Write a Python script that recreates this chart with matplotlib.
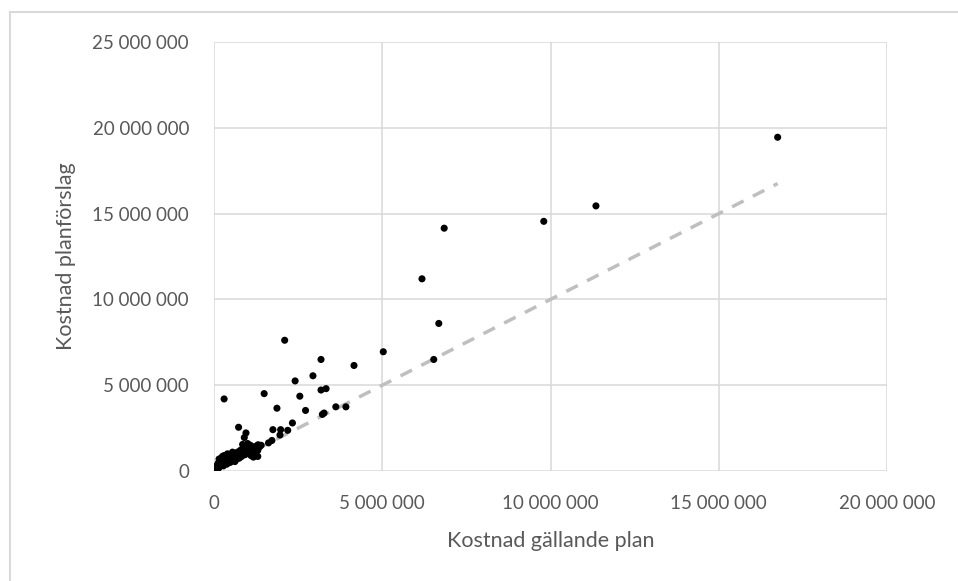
import matplotlib.pyplot as plt
from matplotlib.lines import Line2D
from matplotlib.ticker import FuncFormatter, MultipleLocator

# Kostnad gällande plan / planförslag (miljoner kr)
gallande = [16.75, 11.35, 9.80, 6.84, 6.18, 6.68, 5.03, 6.53, 2.10, 3.18,
            4.16, 2.94, 2.41, 0.30, 1.49, 2.55, 3.18, 3.33, 1.87, 2.72,
            3.62, 3.92, 3.27, 3.22, 2.33, 1.75, 1.98, 2.19, 1.96, 0.73,
            0.95, 0.90, 1.72, 1.62, 1.31, 1.17,
            0.02, 0.05, 0.08, 0.10, 0.12, 0.15, 0.18, 0.20, 0.22, 0.25,
            0.28, 0.30, 0.32, 0.35, 0.38, 0.40, 0.42, 0.45, 0.48, 0.50,
            0.52, 0.55, 0.58, 0.60, 0.62, 0.65, 0.68, 0.70, 0.72, 0.75,
            0.78, 0.80, 0.82, 0.85, 0.88, 0.90, 0.92, 0.95, 0.98, 1.00,
            1.05, 1.08, 1.10, 1.15, 1.18, 1.20, 1.25, 1.30, 1.35, 1.40,
            0.15, 0.25, 0.35, 0.85, 1.00, 0.40, 0.55, 0.30, 1.30, 1.10]
forslag = [19.45, 15.45, 14.55, 14.15, 11.20, 8.60, 6.95, 6.50, 7.62, 6.50,
           6.15, 5.55, 5.25, 4.20, 4.51, 4.36, 4.72, 4.80, 3.66, 3.53,
           3.74, 3.74, 3.38, 3.30, 2.80, 2.41, 2.41, 2.37, 2.10, 2.55,
           2.22, 1.95, 1.78, 1.64, 1.53, 0.81,
           0.05, 0.15, 0.30, 0.08, 0.45, 0.20, 0.60, 0.35, 0.75, 0.50,
           0.30, 0.65, 0.80, 0.55, 0.40, 0.75, 0.60, 0.85, 0.50, 0.70,
           0.90, 0.65, 0.80, 1.00, 0.55, 0.85, 0.70, 1.10, 0.90, 0.75,
           1.20, 1.00, 0.85, 1.30, 1.10, 1.45, 0.95, 1.20, 1.35, 1.05,
           1.25, 1.50, 1.15, 1.40, 0.95, 1.30, 1.45, 1.20, 1.40, 1.50,
           0.70, 0.85, 0.80, 1.55, 1.60, 1.00, 1.10, 0.90, 0.85, 0.90]

x = [v * 1e6 for v in gallande]
y = [v * 1e6 for v in forslag]

plt.rcParams['font.family'] = ['Lato', 'DejaVu Sans']

fig = plt.figure(figsize=(9.58, 5.81), dpi=100)
ax = fig.add_axes([0.2234, 0.1893, 0.7025, 0.7384])

# linje y = x
xmax = max(x)
ax.plot([0, xmax], [0, xmax], color='#BFBFBF', lw=2.5,
        linestyle=(0, (3.7, 3)), zorder=2)
ax.scatter(x, y, s=26, color='black', edgecolors='none', zorder=3)

ax.set_xlim(0, 20e6)
ax.set_ylim(0, 25e6)
ax.xaxis.set_major_locator(MultipleLocator(5e6))
ax.yaxis.set_major_locator(MultipleLocator(5e6))
fmt = FuncFormatter(lambda v, p: f'{int(v):,}'.replace(',', ' '))
ax.xaxis.set_major_formatter(fmt)
ax.yaxis.set_major_formatter(fmt)

ax.grid(True, color='#D9D9D9', lw=1.1, zorder=0)
ax.set_axisbelow(True)
for s in ax.spines.values():
    s.set_visible(False)
ax.tick_params(axis='both', length=0, labelsize=13.5, colors='#595959')
ax.tick_params(axis='x', pad=17)
ax.tick_params(axis='y', pad=18)

ax.set_xlabel('Kostnad gällande plan', fontsize=15.5, color='#595959', labelpad=14)
ax.set_ylabel('Kostnad planförslag', fontsize=15.5, color='#595959', labelpad=12)

# ram runt diagramytan
fig.add_artist(Line2D([0.0104, 0.0104], [0, 0.9793], color='#D9D9D9', lw=1.5,
                      transform=fig.transFigure))
fig.add_artist(Line2D([0.0104, 1], [0.9793, 0.9793], color='#D9D9D9', lw=1.5,
                      transform=fig.transFigure))

fig.savefig('out.png', dpi=100)
